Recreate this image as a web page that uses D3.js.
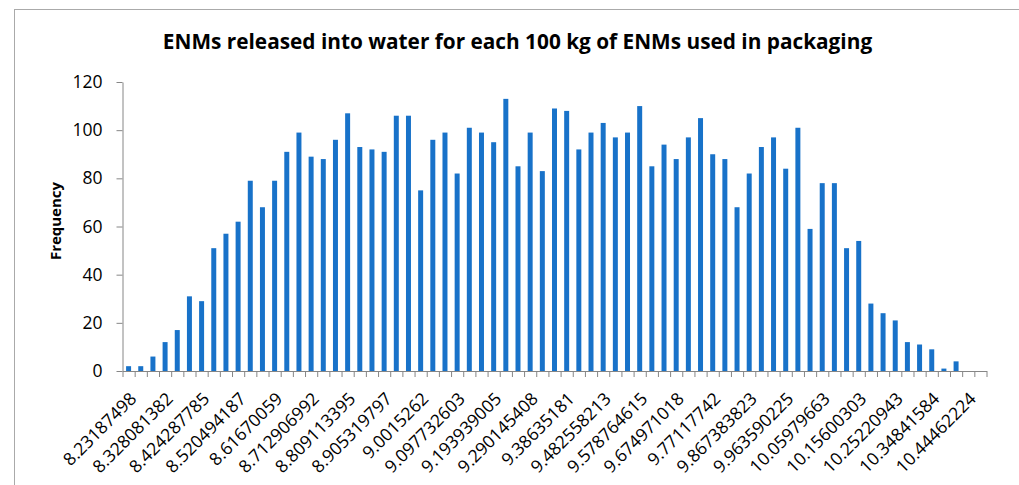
<!DOCTYPE html>
<html lang="en">
<head>
  <meta charset="UTF-8">
  <title>ENMs released into water</title>
  <script src="https://d3js.org/d3.v7.min.js"></script>
  <style>
    body { margin: 0; background: #fff; }
    text { font-family: "Open Sans", sans-serif; fill: #000; }
  </style>
</head>
<body>
  <svg id="chart" width="1019" height="485"></svg>
  <script>
    // labels shown under every third bin
    const tickLabels = ["8.23187498", "8.328081382", "8.424287785", "8.520494187", "8.61670059",
      "8.712906992", "8.809113395", "8.905319797", "9.0015262", "9.097732603", "9.193939005",
      "9.290145408", "9.38635181", "9.482558213", "9.578764615", "9.674971018", "9.77117742",
      "9.867383823", "9.963590225", "10.05979663", "10.15600303", "10.25220943", "10.34841584",
      "10.44462224"];
    // frequency per bin (71 bins)
    const freq = [2, 2, 6, 12, 17, 31, 29, 51, 57, 62, 79, 68, 79, 91, 99, 89, 88, 96, 107, 93, 92, 91, 106, 106,
      75, 96, 99, 82, 101, 99, 95, 113, 85, 99, 83, 109, 108, 92, 99, 103, 97, 99, 110, 85, 94, 88, 97, 105,
      90, 88, 68, 82, 93, 97, 84, 101, 59, 78, 78, 51, 54, 28, 24, 21, 12, 11, 9, 1, 4, 0, 0];
    const yTicks = [0, 20, 40, 60, 80, 100, 120];

    const svg = d3.select("#chart");
    const plotL = 122.5, plotR = 986.5, plotT = 82, plotB = 371;
    const axisColor = "#868686";

    // chart frame
    svg.append("rect")
      .attr("x", 14.5).attr("y", 9.5)
      .attr("width", 1100).attr("height", 600)
      .attr("fill", "none").attr("stroke", "#aaaaaa");

    const x = d3.scaleBand()
      .domain(d3.range(freq.length))
      .range([plotL, plotR])
      .paddingInner(0.59)
      .paddingOuter(0.295);
    const xEdge = d3.scaleLinear().domain([0, freq.length]).range([plotL, plotR]);
    const y = d3.scaleLinear().domain([0, 120]).range([plotB, plotT]);

    // bars
    svg.append("g").selectAll("rect")
      .data(freq)
      .join("rect")
      .attr("x", (d, i) => x(i))
      .attr("y", d => y(d))
      .attr("width", x.bandwidth())
      .attr("height", d => y(0) - y(d))
      .attr("fill", "#1872c9");

    // y axis
    const yAxis = svg.append("g")
      .attr("transform", `translate(${plotL},0)`)
      .call(d3.axisLeft(y).tickValues(yTicks).tickSize(6).tickSizeOuter(0).tickPadding(14));
    yAxis.selectAll("path, line").attr("stroke", axisColor);
    yAxis.selectAll("text").attr("font-size", 17.5).attr("font-family", "Open Sans").attr("fill", "#000");

    // x axis: ticks at bin edges
    const xAxis = svg.append("g")
      .attr("transform", `translate(0,${plotB})`)
      .call(d3.axisBottom(xEdge).tickValues(d3.range(freq.length + 1)).tickSize(6).tickSizeOuter(0).tickFormat(""));
    xAxis.selectAll("path, line").attr("stroke", axisColor);

    // x labels, rotated
    svg.append("g").selectAll("text")
      .data(tickLabels)
      .join("text")
      .attr("transform", (d, i) => `translate(${x(i * 3) + x.bandwidth() / 2},${plotB + 20}) rotate(-45)`)
      .attr("text-anchor", "end")
      .attr("dy", "0.72em")
      .attr("font-size", 17.5)
      .text(d => d);

    // title
    const title = svg.append("text")
      .attr("x", 517.5).attr("y", 49)
      .attr("text-anchor", "middle")
      .attr("font-weight", "bold")
      .attr("font-size", 20)
      .text("ENMs released into water for each 100 kg of ENMs used in packaging");
    const tw = title.node().getComputedTextLength();
    title.attr("font-size", 20 * 710 / tw);

    // y label
    const ylab = svg.append("text")
      .attr("transform", "translate(61,221) rotate(-90)")
      .attr("text-anchor", "middle")
      .attr("font-weight", "bold")
      .attr("font-size", 16)
      .text("Frequency");
    const lw = ylab.node().getComputedTextLength();
    ylab.attr("font-size", 16 * 78 / lw);
  </script>
</body>
</html>
